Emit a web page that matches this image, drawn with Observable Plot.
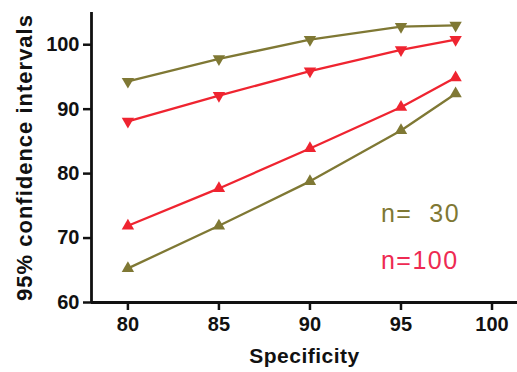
<!DOCTYPE html>
<html><head><meta charset="utf-8">
<script src="https://cdn.jsdelivr.net/npm/d3@7"></script>
<script src="https://cdn.jsdelivr.net/npm/@observablehq/plot@0.6"></script>
<style>body{margin:0;background:#fff} svg text{white-space:pre}</style>
</head><body><div id="chart"></div>
<script>
const specificity = [80, 85, 90, 95, 98];
const upper30  = [94.3, 97.8, 100.8, 102.8, 103.0];
const upper100 = [88.1, 92.1, 95.9, 99.2, 100.8];
const lower100 = [71.9, 77.7, 83.9, 90.3, 94.9];
const lower30  = [65.3, 71.9, 78.8, 86.7, 92.4];
const xTicks = [80, 85, 90, 95, 100];
const yTicks = [60, 70, 80, 90, 100];
const xDomain = [78, 101.4];
const yDomain = [60, 105];
const legendLabels = ["n=  30", "n=100"];
const legendX = [93.9, 93.9];
const legendY = [73.7, 66.4];
const xLabel = "Specificity";
const yLabel = "95% confidence intervals";

const olive = "#7f7834", red = "#ef2430";
const legendColors = [olive, "#ee2a52"];

const series = [
  {name: "upper30", vals: upper30, color: olive, rot: 180},
  {name: "upper100", vals: upper100, color: red, rot: 180},
  {name: "lower100", vals: lower100, color: red, rot: 0},
  {name: "lower30", vals: lower30, color: olive, rot: 0}
];
const rows = series.flatMap(s => specificity.map((x, i) => ({x, y: s.vals[i], name: s.name, color: s.color, rot: s.rot})));
const legend = legendLabels.map((t, i) => ({t, x: legendX[i], y: legendY[i], c: legendColors[i]}));

const marks = [];
for (const s of series) {
  const d = rows.filter(r => r.name === s.name);
  marks.push(Plot.line(d, {x: "x", y: "y", stroke: s.color, strokeWidth: 2.3}));
}
for (const s of series) {
  const d = rows.filter(r => r.name === s.name);
  marks.push(Plot.dot(d, {x: "x", y: "y", symbol: "triangle", r: 4.6, fill: s.color, stroke: "none", rotate: s.rot}));
}

const chart = Plot.plot({
  width: 517, height: 372,
  marginLeft: 91, marginRight: 0, marginTop: 12, marginBottom: 70,
  style: {fontFamily: "'Liberation Sans', Arial, sans-serif", background: "#fff", color: "#111"},
  x: {domain: xDomain, axis: null},
  y: {domain: yDomain, axis: null},
  marks: [
    Plot.axisX({ticks: xTicks, tickSize: 8, tickPadding: 6, fontSize: 20, fontWeight: "bold", strokeWidth: 2.5, label: null, fill: "#111"}),
    Plot.axisY({ticks: yTicks, tickSize: 8, tickPadding: 4, fontSize: 20, fontWeight: "bold", strokeWidth: 2.5, label: null, fill: "#111"}),
    Plot.ruleX([xDomain[0]], {stroke: "#111", strokeWidth: 2.8}),
    Plot.ruleY([yDomain[0]], {stroke: "#111", strokeWidth: 2.8}),
    ...marks,
    Plot.text(legend, {x: "x", y: "y", text: "t", fill: "c", textAnchor: "start", lineAnchor: "middle", fontSize: 25}),
    Plot.text([xLabel], {frameAnchor: "bottom", dy: 60, fontSize: 21, fontWeight: "bold", fill: "#111", lineAnchor: "bottom"}),
    Plot.text([yLabel], {frameAnchor: "left", dx: -67, rotate: -90, textAnchor: "middle", fontSize: 22, fontWeight: "bold", fill: "#111", lineAnchor: "middle"})
  ]
});
d3.select(chart).selectAll("text").each(function() {
  const t = this.textContent;
  if (t === yLabel) this.setAttribute("letter-spacing", "1px");
  else if (t === xLabel) this.setAttribute("letter-spacing", "0.5px");
  else if (legendLabels.includes(t)) this.setAttribute("letter-spacing", "1.5px");
});
document.getElementById("chart").appendChild(chart);
</script>
</body></html>
